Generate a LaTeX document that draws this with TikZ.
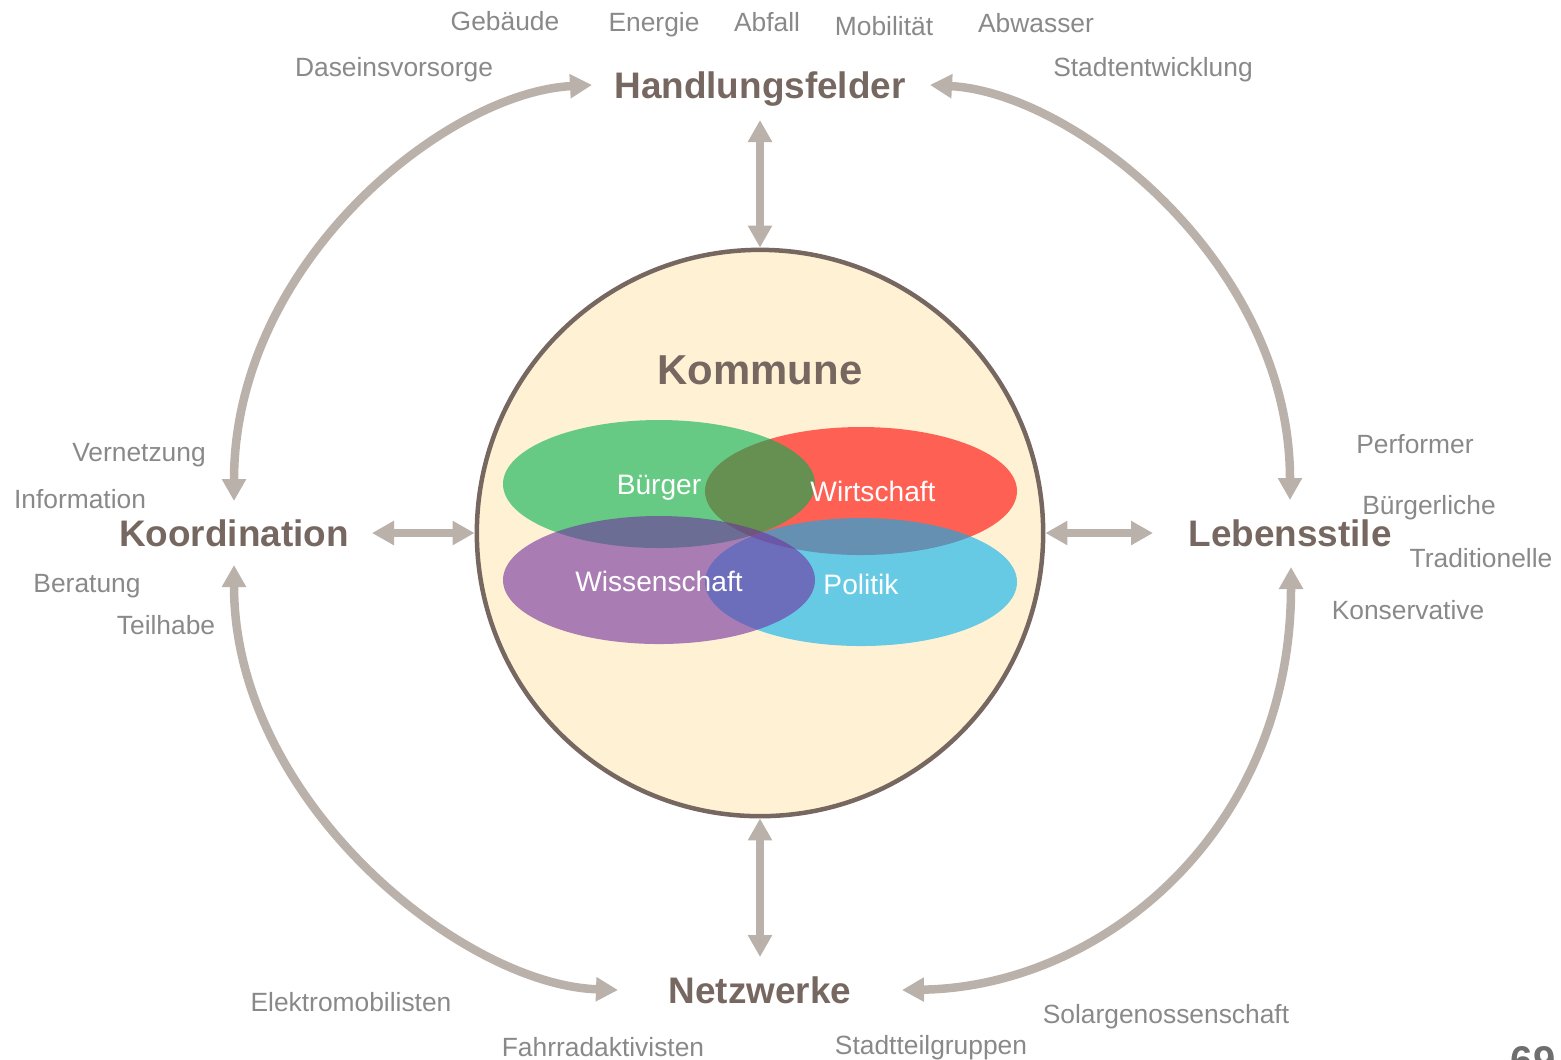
\documentclass[tikz,border=0pt]{standalone}
\usepackage{fontspec}
\setmainfont{Liberation Sans}
\usetikzlibrary{arrows.meta,calc}

\definecolor{cream}{RGB}{255,242,212}
\definecolor{rim}{RGB}{118,104,96}
\definecolor{arrowgray}{RGB}{186,177,171}
\definecolor{txtgray}{RGB}{137,137,137}
\definecolor{ogreen}{RGB}{0,176,80}
\definecolor{ored}{RGB}{255,0,0}
\definecolor{ocyan}{RGB}{0,176,240}
\definecolor{opurple}{RGB}{112,48,160}

\begin{document}
\begin{tikzpicture}[x=0.01cm,y=-0.01cm,
  lbl/.style   ={text=txtgray,font=\fontsize{7.5}{9}\selectfont,inner sep=0pt},
  head/.style  ={text=rim,font=\fontsize{10.5}{12}\bfseries\selectfont,inner sep=0pt},
  inlbl/.style ={text=white,font=\fontsize{8}{10}\selectfont,inner sep=0pt},
  blob/.style  ={fill opacity=0.6}]
\useasboundingbox (0,0) rectangle (1561,1059);
  % Kommune
  \node[circle,draw=rim,line width=0.045cm,fill=cream,minimum size=5.66cm,inner sep=0pt] (C) at (760,533) {};
  \fill[ored,blob]    (861,491) ellipse [x radius=156,y radius=64];
  \fill[ogreen,blob]  (659,484) ellipse [x radius=156,y radius=64];
  \fill[ocyan,blob]   (861,582) ellipse [x radius=156,y radius=64];
  \fill[opurple,blob] (659,580) ellipse [x radius=156,y radius=64];
  \node[head,font=\fontsize{11.9}{14}\bfseries\selectfont] (Ko) at (760,370) {Kommune};
  \node[inlbl]  (Bu) at (659,488) {Bürger};
  \node[inlbl]  (Wi) at (873,491) {Wirtschaft};
  \node[inlbl]  (Ws) at (659,581) {Wissenschaft};
  \node[inlbl]  (Po) at (861,584) {Politik};
  % Handlungsfelder etc.
  \node[head]   (H)  at (760,89)   {Handlungsfelder};
  \node[head]   (K)  at (234,533)  {Koordination};
  \node[head]   (L)  at (1290,533) {Lebensstile};
  \node[head]   (N)  at (760,990)  {Netzwerke};
  \node[lbl]    (H1) at (505,21)   {Gebäude};
  \node[lbl]    (H2) at (654,25)   {Energie};
  \node[lbl]    (H3) at (767,22)   {Abfall};
  \node[lbl]    (H4) at (884,26)   {Mobilität};
  \node[lbl]    (H5) at (1036,23)  {Abwasser};
  \node[lbl]    (H6) at (394,70)   {Daseinsvorsorge};
  \node[lbl]    (H7) at (1153,70)  {Stadtentwicklung};
  \node[lbl]    (K1) at (139,455)  {Vernetzung};
  \node[lbl]    (K2) at (80,499)   {Information};
  \node[lbl]    (K3) at (87,586)   {Beratung};
  \node[lbl]    (K4) at (166,625)  {Teilhabe};
  \node[lbl]    (L1) at (1415,444) {Performer};
  \node[lbl]    (L2) at (1429,508) {Bürgerliche};
  \node[lbl]    (L3) at (1481,558) {Traditionelle};
  \node[lbl]    (L4) at (1408,610) {Konservative};
  \node[lbl]    (N1) at (351,1002) {Elektromobilisten};
  \node[lbl]    (N2) at (603,1047) {Fahrradaktivisten};
  \node[lbl]    (N3) at (931,1048) {Stadtteilgruppen};
  \node[lbl]    (N4) at (1166,1017) {Solargenossenschaft};
  \node[anchor=north west,inner sep=0pt,text=txtgray!80!black,font=\fontsize{11.4}{13}\bfseries\selectfont] (pg) at (1510,1046) {69};
\tikzset{dbl/.style={{Triangle[width=0.23cm,length=0.22cm]}-{Triangle[width=0.23cm,length=0.22cm]},draw=arrowgray,line width=0.085cm}}
\path ($(H)+(0,31)$)   edge [dbl]  (C.north)
      (C.south)        edge [dbl]  ($(N)+(0,-33)$)
      ($(K)+(138,0)$)  edge [dbl]  (C.west)
      (C.east)         edge [dbl]  ($(L)+(-137,0)$);
\tikzset{dbl/.append style={relative=false}}
\path ($(H)+(-168,-4)$) edge [dbl,out=183,in=90,out looseness=.68,in looseness=1.11]  ($(K)+(0,-32)$)
      ($(H)+(170,-4)$)  edge [dbl,out=-3,in=90,out looseness=.67,in looseness=1.11]   ($(L)+(0,-33)$)
      ($(K)+(0,32)$)    edge [dbl,out=-90,in=178,out looseness=1.05,in looseness=.7]  ($(N)+(-142,0)$)
      ($(L)+(1,34)$)    edge [dbl,out=-90,in=1,out looseness=1.17,in looseness=.9]    ($(N)+(142,0)$);
\end{tikzpicture}
\end{document}
